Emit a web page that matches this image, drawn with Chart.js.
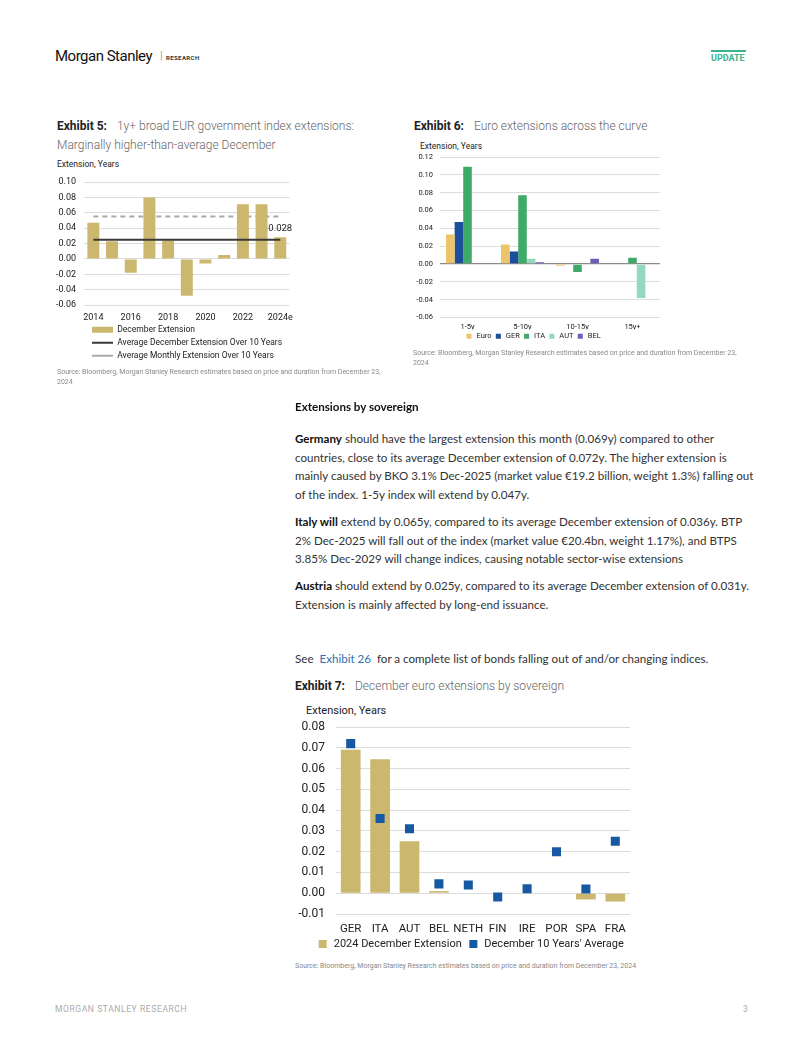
<!DOCTYPE html>
<html>
<head>
<meta charset="utf-8">
<script src="https://cdn.jsdelivr.net/npm/chart.js@4.4.1/dist/chart.umd.min.js"></script>
<style>
  body { margin: 0; background: #fff; font-family: Roboto, sans-serif; }
  .page { position: relative; width: 802px; height: 1037px; overflow: hidden; }
  .abs { position: absolute; white-space: nowrap; }
  .title { font-size: 12px; color: #666; line-height: 19px; font-weight: 300; }
  .title b { color: #222; font-weight: 700; margin-right: 7px; }
  .unit { font-size: 8.5px; color: #222; }
  .src { font-size: 7px; color: #888; line-height: 10px; }
  .body { font-family: Lato, sans-serif; font-size: 11.6px; color: #333; line-height: 18.5px; }
  .body b { color: #111; }
  canvas { position: absolute; }
</style>
</head>
<body>
<div class="page">
  <!-- header -->
  <div class="abs" style="left:55px;top:47px;font-size:15px;color:#111;letter-spacing:-0.5px;">Morgan Stanley</div>
  <div class="abs" style="left:160px;top:49px;font-size:11px;color:#999;">|</div>
  <div class="abs" style="left:166px;top:54px;font-size:6px;font-weight:700;color:#333;letter-spacing:0.4px;">RESEARCH</div>
  <div class="abs" style="left:711px;top:50px;width:35px;height:2px;background:#3cb38a;"></div>
  <div class="abs" style="left:711px;top:53px;font-size:9px;font-weight:700;color:#3cb38a;">UPDATE</div>

  <!-- exhibit 5 -->
  <div class="abs title" style="left:57px;top:117px;"><b>Exhibit 5:</b> 1y+ broad EUR government index extensions:<br>Marginally higher-than-average December</div>
  <div class="abs unit" style="left:57px;top:159px;">Extension, Years</div>
  <canvas id="c5" style="left:55px;top:172px;" width="245" height="198"></canvas>
  <div class="abs src" style="left:57px;top:367px;">Source: Bloomberg, Morgan Stanley Research estimates based on price and duration from December 23,<br>2024</div>

  <!-- exhibit 6 -->
  <div class="abs title" style="left:414px;top:117px;"><b>Exhibit 6:</b> Euro extensions across the curve</div>
  <div class="abs unit" style="left:420px;top:141px;">Extension, Years</div>
  <canvas id="c6" style="left:410px;top:150px;" width="255" height="200"></canvas>
  <div class="abs src" style="left:413px;top:348px;">Source: Bloomberg, Morgan Stanley Research estimates based on price and duration from December 23,<br>2024</div>

  <!-- body text -->
  <div class="abs body" style="left:295px;top:398px;"><b>Extensions by sovereign</b></div>
  <div class="abs body" style="left:295px;top:430px;"><b>Germany</b> should have the largest extension this month (0.069y) compared to other<br>countries, close to its average December extension of 0.072y. The higher extension is<br>mainly caused by BKO 3.1% Dec-2025 (market value €19.2 billion, weight 1.3%) falling out<br>of the index. 1-5y index will extend by 0.047y.</div>
  <div class="abs body" style="left:295px;top:513px;"><b>Italy will</b> extend by 0.065y, compared to its average December extension of 0.036y. BTP<br>2% Dec-2025 will fall out of the index (market value €20.4bn, weight 1.17%), and BTPS<br>3.85% Dec-2029 will change indices, causing notable sector-wise extensions</div>
  <div class="abs body" style="left:295px;top:577px;"><b>Austria</b> should extend by 0.025y, compared to its average December extension of 0.031y.<br>Extension is mainly affected by long-end issuance.</div>
  <div class="abs body" style="left:295px;top:650px;">See &nbsp;<span style="color:#2f6db5;">Exhibit 26</span>&nbsp; for a complete list of bonds falling out of and/or changing indices.</div>

  <!-- exhibit 7 -->
  <div class="abs title" style="left:295px;top:677px;"><b>Exhibit 7:</b> December euro extensions by sovereign</div>
  <div class="abs" style="left:306px;top:704px;font-size:11px;color:#222;">Extension, Years</div>
  <canvas id="c7" style="left:295px;top:718px;" width="345" height="243"></canvas>
  <div class="abs src" style="left:295px;top:961px;">Source: Bloomberg, Morgan Stanley Research estimates based on price and duration from December 23, 2024</div>

  <!-- footer -->
  <div class="abs" style="left:55px;top:1004px;font-size:8.5px;color:#aaa;letter-spacing:0.6px;">MORGAN STANLEY RESEARCH</div>
  <div class="abs" style="left:743px;top:1004px;font-size:8.5px;color:#aaa;">3</div>
</div>

<script>
// ---- exhibit 5 data
var years = ['2014','2015','2016','2017','2018','2019','2020','2021','2022','2023','2024e'];
var decExtension = [0.047, 0.023, -0.018, 0.080, 0.024, -0.048, -0.006, 0.005, 0.071, 0.071, 0.028];
var avgDecExtension = [0.025, 0.025, 0.025, 0.025, 0.025, 0.025, 0.025, 0.025, 0.025, 0.025, 0.025];
var avgMonthlyExtension = [0.055, 0.055, 0.055, 0.055, 0.055, 0.055, 0.055, 0.055, 0.055, 0.055, 0.055];

// ---- exhibit 6 data
var buckets = ['1-5y', '5-10y', '10-15y', '15y+'];
var euroCurve = [0.033, 0.022, -0.002, 0];
var gerCurve = [0.047, 0.014, 0, 0];
var itaCurve = [0.109, 0.077, -0.009, 0.007];
var autCurve = [0, 0.006, 0, -0.038];
var belCurve = [0, 0.002, 0.006, 0];

// ---- exhibit 7 data
var sovereigns = ['GER','ITA','AUT','BEL','NETH','FIN','IRE','POR','SPA','FRA'];
var dec2024 = [0.069, 0.0645, 0.025, 0.001, 0, 0, 0, 0, -0.003, -0.004];
var dec10yAvg = [0.072, 0.036, 0.031, 0.0045, 0.004, -0.0018, 0.0022, 0.020, 0.002, 0.025];

var GOLD = '#ccb76e';
var GRID = '#dcdcdc';

// moves the legend after layout (legend position is read at draw time)
var shiftLegend = {
  id: 'shiftLegend',
  afterLayout: function(chart, args, opts) {
    var lg = chart.legend;
    if (!lg) return;
    var dx = opts.dx || 0, dy = opts.dy || 0;
    lg.left += dx; lg.right += dx;
    lg.top += dy; lg.bottom += dy;
  }
};

// value label above the last bar
var lastLabel = {
  id: 'lastLabel',
  afterDatasetsDraw: function(chart, args, opts) {
    if (!opts.text) return;
    var meta = chart.getDatasetMeta(0);
    var bar = meta.data[meta.data.length - 1];
    var ctx = chart.ctx;
    ctx.save();
    ctx.font = '9.5px Roboto';
    ctx.fillStyle = '#222';
    ctx.textAlign = 'center';
    ctx.textBaseline = 'bottom';
    ctx.fillText(opts.text, bar.x, bar.y - 4);
    ctx.restore();
  }
};

Chart.defaults.font.family = 'Roboto';
Chart.defaults.color = '#222';
Chart.defaults.animation = false;
Chart.defaults.plugins.tooltip.enabled = false;

var baseLabels = Chart.defaults.plugins.legend.labels.generateLabels;
var fmt2 = function(v) { return v.toFixed(2); };

// y grid: invisible tick marks give the gap between labels and plot
function yGrid(gap, color) {
  return { color: color || GRID, drawTicks: true, tickLength: gap, tickColor: 'rgba(0,0,0,0)' };
}

new Chart(document.getElementById('c5'), {
  type: 'bar',
  data: {
    labels: years,
    datasets: [
      { label: 'December Extension', data: decExtension, backgroundColor: GOLD,
        barPercentage: 0.64, categoryPercentage: 1, order: 1 },
      { type: 'line', label: 'Average December Extension Over 10 Years', data: avgDecExtension,
        borderColor: '#3a3a3a', backgroundColor: '#3a3a3a', borderWidth: 2, pointRadius: 0, order: 0 },
      { type: 'line', label: 'Average Monthly Extension Over 10 Years', data: avgMonthlyExtension,
        borderColor: '#aaaaaa', backgroundColor: '#aaaaaa', borderWidth: 2, borderDash: [5, 4],
        pointRadius: 0, order: 2 }
    ]
  },
  options: {
    responsive: false,
    layout: { padding: { top: 10, right: 5, bottom: 0 } },
    scales: {
      x: {
        afterFit: function(s) { s.height = 16; },
        grid: { display: false, drawTicks: false }, border: { display: false },
        ticks: { font: { size: 9 }, padding: 7, maxRotation: 0, autoSkip: false,
          callback: function(v, i) { return i % 2 === 0 ? this.getLabelForValue(v) : ''; } }
      },
      y: {
        min: -0.06, max: 0.10,
        afterFit: function(s) { s.width = 29; },
        grid: yGrid(8), border: { display: false },
        ticks: { stepSize: 0.02, autoSkip: false, font: { size: 9 }, padding: 0, callback: fmt2 }
      }
    },
    plugins: {
      legend: {
        position: 'bottom', align: 'start', fullSize: false,
        labels: {
          font: { size: 8.5 }, usePointStyle: true, pointStyleWidth: 21, boxHeight: 6, padding: 4.5,
          sort: function(a, b) { return a.datasetIndex - b.datasetIndex; },
          generateLabels: function(chart) {
            return baseLabels(chart).map(function(it) {
              it.pointStyle = chart.data.datasets[it.datasetIndex].type === 'line' ? 'line' : 'rect';
              return it;
            });
          }
        }
      },
      shiftLegend: { dx: 3.5, dy: 0 },
      lastLabel: { text: '0.028' }
    }
  },
  plugins: [shiftLegend, lastLabel]
});

new Chart(document.getElementById('c6'), {
  type: 'bar',
  data: {
    labels: buckets,
    datasets: [
      { label: 'Euro', data: euroCurve, backgroundColor: '#ecc469' },
      { label: 'GER', data: gerCurve, backgroundColor: '#1b4f9b' },
      { label: 'ITA', data: itaCurve, backgroundColor: '#3faa68' },
      { label: 'AUT', data: autCurve, backgroundColor: '#93d9bd' },
      { label: 'BEL', data: belCurve, backgroundColor: '#6a5fb5' }
    ]
  },
  options: {
    responsive: false,
    datasets: { bar: { barPercentage: 1, categoryPercentage: 0.78 } },
    layout: { padding: { top: 7, right: 5 } },
    scales: {
      x: {
        afterFit: function(s) { s.height = 12; },
        grid: { display: false, drawTicks: false }, border: { display: false },
        ticks: { font: { size: 7.5 }, padding: 5, maxRotation: 0 }
      },
      y: {
        min: -0.06, max: 0.12,
        afterFit: function(s) { s.width = 30; },
        grid: {
          drawTicks: true, tickLength: 7, tickColor: 'rgba(0,0,0,0)',
          color: function(c) { return c.tick && c.tick.value === 0 ? '#8c8c8c' : GRID; },
          lineWidth: function(c) { return c.tick && c.tick.value === 0 ? 1.3 : 1; }
        },
        border: { display: false },
        ticks: { stepSize: 0.02, autoSkip: false, font: { size: 7.5 }, padding: 0, callback: fmt2 }
      }
    },
    plugins: {
      legend: {
        position: 'bottom',
        labels: { font: { size: 7.5 }, usePointStyle: true, pointStyle: 'rect', boxHeight: 5, padding: 3 }
      },
      shiftLegend: { dx: -2, dy: 0 }
    }
  },
  plugins: [shiftLegend]
});

new Chart(document.getElementById('c7'), {
  type: 'bar',
  data: {
    labels: sovereigns,
    datasets: [
      { label: '2024 December Extension', data: dec2024, backgroundColor: GOLD,
        barPercentage: 0.67, categoryPercentage: 1, order: 1 },
      { type: 'line', label: "December 10 Years' Average", data: dec10yAvg, showLine: false,
        pointStyle: 'rect', pointRadius: 6.4, pointBorderWidth: 0,
        backgroundColor: '#1758a3', borderColor: '#1758a3', pointBackgroundColor: '#1758a3', order: 0 }
    ]
  },
  options: {
    responsive: false,
    layout: { padding: { top: 9, right: 10 } },
    scales: {
      x: {
        afterFit: function(s) { s.height = 20; },
        grid: { display: false, drawTicks: false }, border: { display: false },
        ticks: { font: { size: 11.5 }, padding: 8, maxRotation: 0, autoSkip: false }
      },
      y: {
        min: -0.01, max: 0.08,
        afterFit: function(s) { s.width = 41; },
        grid: yGrid(11), border: { display: false },
        ticks: { stepSize: 0.01, autoSkip: false, font: { size: 12 }, padding: 0, callback: fmt2 }
      }
    },
    plugins: {
      legend: {
        position: 'bottom',
        labels: { font: { size: 11 }, usePointStyle: true, pointStyle: 'rect', boxHeight: 8, padding: 6,
          sort: function(a, b) { return a.datasetIndex - b.datasetIndex; } }
      },
      shiftLegend: { dx: 8, dy: -1.5 }
    }
  },
  plugins: [shiftLegend]
});
</script>
</body>
</html>
